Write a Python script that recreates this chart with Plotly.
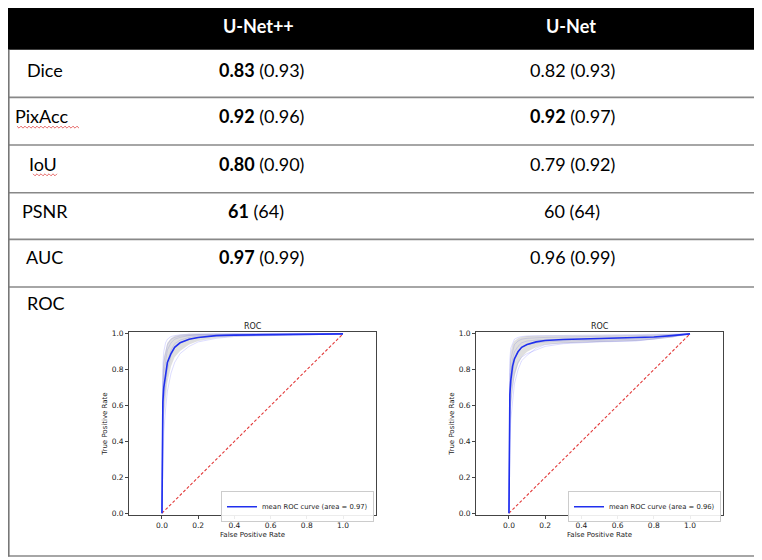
import plotly.graph_objects as go

W, H = 762, 560
OFF = 8  # page body margin of the written html

# ---------------- table data ----------------
models = ["U-Net++", "U-Net"]
metrics = ["Dice", "PixAcc", "IoU", "PSNR", "AUC", "ROC"]
unetpp_vals = ["0.83", "0.92", "0.80", "61", "0.97"]
unetpp_best = ["0.93", "0.96", "0.90", "64", "0.99"]
unetpp_bold = [True, True, True, True, True]
unet_vals = ["0.82", "0.92", "0.79", "60", "0.96"]
unet_best = ["0.93", "0.97", "0.92", "64", "0.99"]
unet_bold = [False, True, False, False, False]

# ---------------- ROC data: U-Net++ ----------------
fpr_pp = [0, 0.002, 0.005, 0.01, 0.02, 0.03, 0.05, 0.07, 0.1, 0.15, 0.2, 0.3, 0.4, 0.6, 0.8, 1.0]
mean_pp = [0, 0.45, 0.62, 0.70, 0.78, 0.84, 0.89, 0.925, 0.95, 0.97, 0.98, 0.99, 0.993, 0.996, 0.998, 1.0]
upper_pp = [0, 0.68, 0.80, 0.87, 0.92, 0.95, 0.975, 0.988, 0.995, 1.0, 1.0, 1.0, 1.0, 1.0, 1.0, 1.0]
lower_pp = [0, 0.22, 0.44, 0.53, 0.64, 0.73, 0.82, 0.87, 0.905, 0.94, 0.96, 0.978, 0.985, 0.99, 0.995, 1.0]
folds_pp = [
    [0, 0.72, 0.83, 0.90, 0.95, 0.97, 0.985, 0.99, 0.995, 0.998, 1, 1, 1, 1, 1, 1],
    [0, 0.55, 0.70, 0.78, 0.86, 0.91, 0.95, 0.97, 0.98, 0.99, 0.993, 0.996, 0.998, 0.999, 1, 1],
    [0, 0.30, 0.50, 0.62, 0.72, 0.80, 0.88, 0.92, 0.95, 0.97, 0.98, 0.99, 0.993, 0.996, 0.998, 1],
    [0, 0.15, 0.32, 0.45, 0.58, 0.68, 0.78, 0.84, 0.89, 0.93, 0.955, 0.975, 0.985, 0.99, 0.995, 1],
    [0, 0.62, 0.76, 0.84, 0.90, 0.94, 0.97, 0.98, 0.988, 0.993, 0.996, 0.998, 0.999, 1, 1, 1],
    [0, 0.40, 0.58, 0.68, 0.77, 0.84, 0.91, 0.945, 0.965, 0.98, 0.988, 0.994, 0.996, 0.998, 0.999, 1],
]
auc_pp = "0.97"

# ---------------- ROC data: U-Net ----------------
fpr_u = [0, 0.002, 0.005, 0.01, 0.02, 0.03, 0.05, 0.07, 0.1, 0.15, 0.2, 0.3, 0.5, 0.7, 0.8, 0.9, 1.0]
mean_u = [0, 0.50, 0.66, 0.74, 0.82, 0.86, 0.90, 0.925, 0.94, 0.955, 0.963, 0.968, 0.972, 0.976, 0.982, 0.99, 1.0]
upper_u = [0, 0.72, 0.84, 0.90, 0.94, 0.96, 0.975, 0.983, 0.988, 0.99, 0.99, 0.99, 0.992, 0.994, 0.996, 0.998, 1.0]
lower_u = [0, 0.28, 0.48, 0.58, 0.70, 0.76, 0.83, 0.87, 0.90, 0.925, 0.94, 0.948, 0.955, 0.96, 0.968, 0.98, 1.0]
folds_u = [
    [0, 0.75, 0.86, 0.92, 0.95, 0.97, 0.98, 0.985, 0.988, 0.99, 0.99, 0.991, 0.993, 0.995, 0.997, 0.999, 1],
    [0, 0.55, 0.70, 0.78, 0.86, 0.90, 0.93, 0.95, 0.96, 0.965, 0.968, 0.97, 0.973, 0.977, 0.983, 0.99, 1],
    [0, 0.35, 0.52, 0.62, 0.72, 0.78, 0.84, 0.87, 0.89, 0.91, 0.93, 0.945, 0.955, 0.96, 0.97, 0.982, 1],
    [0, 0.20, 0.40, 0.52, 0.64, 0.72, 0.80, 0.85, 0.88, 0.92, 0.94, 0.95, 0.958, 0.963, 0.972, 0.985, 1],
    [0, 0.62, 0.78, 0.86, 0.91, 0.94, 0.96, 0.97, 0.975, 0.978, 0.98, 0.982, 0.985, 0.988, 0.992, 0.996, 1],
    [0, 0.45, 0.60, 0.70, 0.79, 0.85, 0.90, 0.925, 0.94, 0.95, 0.955, 0.96, 0.965, 0.97, 0.978, 0.988, 1],
]
auc_u = "0.96"

chance = [0, 1]


def px(x):
    return (x - OFF) / W


def py(y):
    return 1 - (y - OFF) / H


fig = go.Figure()

TXT = "#222"
AX = "#444"
MPL = "DejaVu Sans"


def add_roc(fpr, mean, upper, lower, folds, auc, xa, ya, legend):
    for f in folds:
        fig.add_trace(go.Scatter(x=fpr, y=f, mode="lines", xaxis=xa, yaxis=ya,
                                 line=dict(color="rgba(40,40,255,0.2)", width=0.8),
                                 showlegend=False, hoverinfo="skip"))
    fig.add_trace(go.Scatter(x=fpr, y=upper, mode="lines", xaxis=xa, yaxis=ya,
                             line=dict(width=0), showlegend=False, hoverinfo="skip"))
    fig.add_trace(go.Scatter(x=fpr, y=lower, mode="lines", xaxis=xa, yaxis=ya,
                             line=dict(width=0), fill="tonexty",
                             fillcolor="rgba(128,128,128,0.25)",
                             showlegend=False, hoverinfo="skip"))
    fig.add_trace(go.Scatter(x=chance, y=chance, mode="lines", xaxis=xa, yaxis=ya,
                             line=dict(color="#e23a3a", width=1.1, dash="3px,2px"),
                             showlegend=False, hoverinfo="skip"))
    fig.add_trace(go.Scatter(x=fpr, y=mean, mode="lines", xaxis=xa, yaxis=ya,
                             line=dict(color="#2030ee", width=1.6),
                             name=f"mean ROC curve (area = {auc})",
                             legend=legend, showlegend=True))


add_roc(fpr_pp, mean_pp, upper_pp, lower_pp, folds_pp, auc_pp, "x", "y", "legend")
add_roc(fpr_u, mean_u, upper_u, lower_u, folds_u, auc_u, "x2", "y2", "legend2")

xr = [-0.182, 1.182]
yr = [-0.012, 1.012]
tickv = [0, 0.2, 0.4, 0.6, 0.8, 1.0]
ticktxt = ["0.0", "0.2", "0.4", "0.6", "0.8", "1.0"]


def xaxis(dom, anchor):
    return dict(domain=dom, anchor=anchor, range=xr, tickvals=tickv, ticktext=ticktxt,
                showline=True, mirror=True, linecolor=AX, linewidth=0.8,
                ticks="outside", ticklen=3, tickwidth=0.8, tickcolor=AX,
                showgrid=False, zeroline=False,
                tickfont=dict(family=MPL, size=7.5, color=TXT),
                title=dict(text="False Positive Rate", standoff=2,
                           font=dict(family=MPL, size=7, color=TXT)))


def yaxis(dom, anchor):
    return dict(domain=dom, anchor=anchor, range=yr, tickvals=tickv, ticktext=ticktxt,
                showline=True, mirror=True, linecolor=AX, linewidth=0.8,
                ticks="outside", ticklen=3, tickwidth=0.8, tickcolor=AX,
                showgrid=False, zeroline=False,
                tickfont=dict(family=MPL, size=7.5, color=TXT),
                title=dict(text="True Positive Rate", standoff=3,
                           font=dict(family=MPL, size=7, color=TXT)))


ydom = [py(517), py(332)]
x1dom = [px(129), px(376)]
x2dom = [px(476), px(723)]

shapes = []
# header band
shapes.append(dict(type="rect", xref="paper", yref="paper", x0=px(6), x1=px(W + 2),
                   y0=py(48), y1=py(1), fillcolor="black", line=dict(width=0), layer="below"))
# row separators
for yy in [96, 144, 192, 239, 287, 558]:
    shapes.append(dict(type="line", xref="paper", yref="paper", x0=px(5), x1=px(W + 2),
                       y0=py(yy), y1=py(yy), line=dict(color="#888", width=1.6)))
# left border
shapes.append(dict(type="line", xref="paper", yref="paper", x0=px(8.8), x1=px(8.8),
                   y0=py(48), y1=py(558.5), line=dict(color="#777", width=1.6)))


# spell-check wavy underlines
def wavy(x0, x1, y):
    pts = []
    x = x0
    up = True
    while x <= x1:
        pts.append((x, y - 1 if up else y + 1))
        up = not up
        x += 2
    d = "M" + " L".join(f"{px(a):.5f},{py(b):.5f}" for a, b in pts)
    return dict(type="path", xref="paper", yref="paper", path=d,
                line=dict(color="rgba(220,40,40,0.85)", width=0.8))


shapes.append(wavy(17, 80, 126))
shapes.append(wavy(33, 58, 174))

ann = []
FONT = "Lato"
# header
for name, cx in zip(models, [258, 571]):
    ann.append(dict(text=f"<b>{name}</b>", x=px(cx), y=py(24), xref="paper", yref="paper",
                    showarrow=False, font=dict(family=FONT, size=18, color="white"),
                    xanchor="center", yanchor="middle"))
row_y = [68, 115, 163, 210, 257, 303]
label_x = [45, 41, 43, 45, 44, 46]
col1_x = [261, 261, 261, 256, 261]
col2_x = [572, 572, 572, 572, 572]
for m, yy, lx in zip(metrics, row_y, label_x):
    ann.append(dict(text=m, x=px(lx), y=py(yy), xref="paper", yref="paper",
                    showarrow=False, font=dict(family=FONT, size=18, color="black"),
                    xanchor="center", yanchor="middle"))
for i in range(5):
    v = f"<b>{unetpp_vals[i]}</b>" if unetpp_bold[i] else unetpp_vals[i]
    ann.append(dict(text=f"{v} ({unetpp_best[i]})", x=px(col1_x[i]), y=py(row_y[i]),
                    xref="paper", yref="paper", showarrow=False,
                    font=dict(family=FONT, size=18, color="black"),
                    xanchor="center", yanchor="middle"))
    v = f"<b>{unet_vals[i]}</b>" if unet_bold[i] else unet_vals[i]
    ann.append(dict(text=f"{v} ({unet_best[i]})", x=px(col2_x[i]), y=py(row_y[i]),
                    xref="paper", yref="paper", showarrow=False,
                    font=dict(family=FONT, size=18, color="black"),
                    xanchor="center", yanchor="middle"))
# plot titles
for dom in [x1dom, x2dom]:
    ann.append(dict(text="ROC", x=(dom[0] + dom[1]) / 2, y=py(327), xref="paper", yref="paper",
                    showarrow=False, font=dict(family=MPL, size=8, color=TXT),
                    xanchor="center", yanchor="middle"))

leg_common = dict(xanchor="right", yanchor="bottom", bgcolor="rgba(255,255,255,0.9)",
                  bordercolor="#ccc", borderwidth=1, font=dict(family=MPL, size=6.8, color=TXT),
                  itemwidth=30, tracegroupgap=0)

fig.update_layout(
    width=W, height=H, margin=dict(l=0, r=0, t=0, b=0),
    paper_bgcolor="white", plot_bgcolor="white",
    xaxis=xaxis(x1dom, "y"), yaxis=yaxis(ydom, "x"),
    xaxis2=xaxis(x2dom, "y2"), yaxis2=yaxis(ydom, "x2"),
    shapes=shapes, annotations=ann,
    legend=dict(x=px(374), y=py(524), **leg_common),
    legend2=dict(x=px(721), y=py(524), **leg_common),
)

fig.write_html("out.html")
